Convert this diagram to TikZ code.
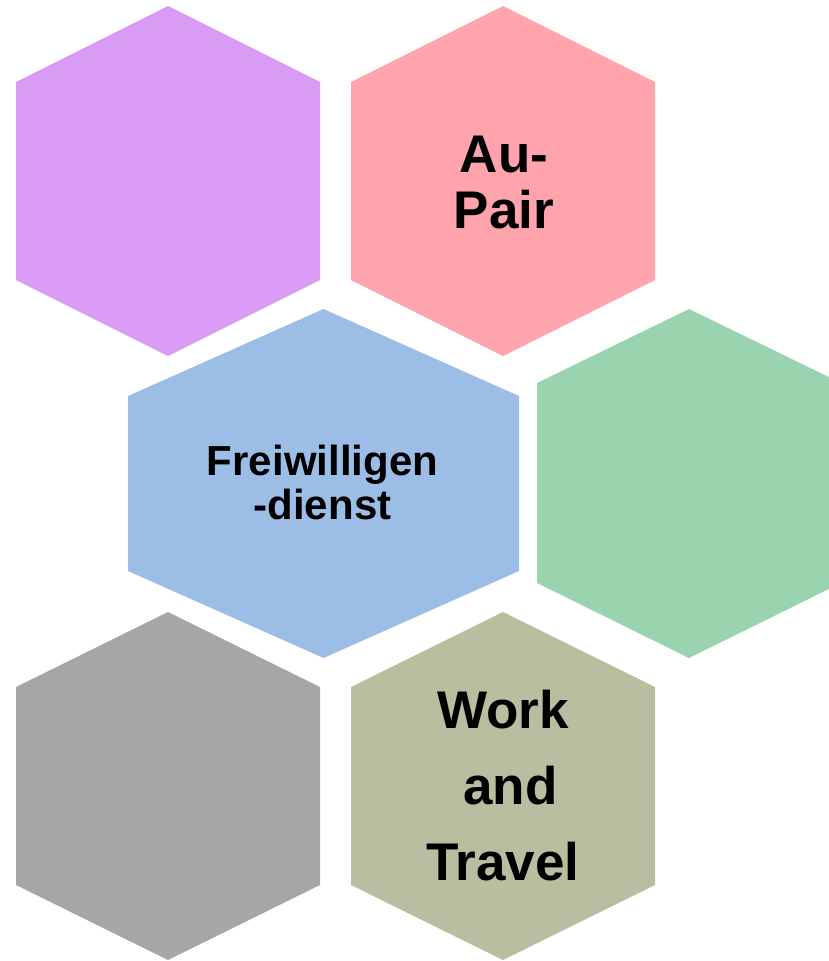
\documentclass[tikz,border=0pt]{standalone}
\usepackage{fontspec}
\setmainfont{Liberation Sans}
\definecolor{hexpurple}{HTML}{D99BF3}
\definecolor{hexpink}{HTML}{FFA3AC}
\definecolor{hexblue}{HTML}{9BBDE6}
\definecolor{hexgreen}{HTML}{9AD4AF}
\definecolor{hexgray}{HTML}{A6A6A6}
\definecolor{hexolive}{HTML}{B8BE9F}
\tikzset{
  hexlabel/.style={inner sep=0pt, align=center, text=black, anchor=base},
  bigfont/.style={font=\fontsize{53pt}{56pt}\selectfont\bfseries},
  midfont/.style={font=\fontsize{42pt}{44pt}\selectfont\bfseries},
  widefont/.style={font=\fontsize{53pt}{76pt}\selectfont\bfseries},
}
\begin{document}
\begin{tikzpicture}[x=1pt,y=-1pt]
\useasboundingbox (0,0) rectangle (829,961);
\clip (0,0) rectangle (829,961);
% purple
\fill[hexpurple] (168,6) -- (320,82) -- (320,280) -- (168,356) -- (16,280) -- (16,82) -- cycle;
% pink
\fill[hexpink] (503,6) -- (655,82) -- (655,280) -- (503,356) -- (351,280) -- (351,82) -- cycle;
% blue
\fill[hexblue] (323.5,309) -- (519,396) -- (519,571) -- (323.5,658) -- (128,571) -- (128,396) -- cycle;
% green
\fill[hexgreen] (689,309) -- (841,383) -- (841,583) -- (689,658) -- (537,583) -- (537,383) -- cycle;
% gray
\fill[hexgray] (168,612) -- (320,687) -- (320,885) -- (168,960) -- (16,885) -- (16,687) -- cycle;
% olive
\fill[hexolive] (503,612) -- (655,687) -- (655,885) -- (503,960) -- (351,885) -- (351,687) -- cycle;
% labels (base anchor = baseline of the last line)
\node[hexlabel, bigfont] (aupair) at (504,228) {Au-\\Pair};
\node[hexlabel, midfont] (frei) at (322.5,519) {Freiwilligen\\-dienst};
\node[hexlabel, widefont] (wat) at (503,880) {Work\\~and\\Travel};
\end{tikzpicture}
\end{document}
